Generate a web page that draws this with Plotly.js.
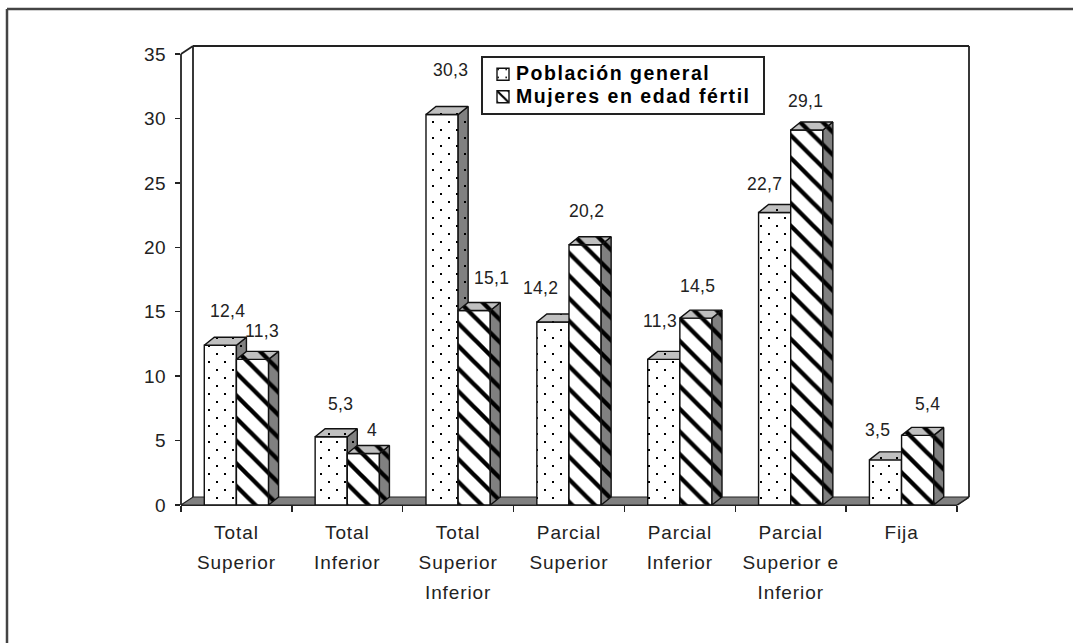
<!DOCTYPE html>
<html><head><meta charset="utf-8">
<script src="https://cdn.plot.ly/plotly-3.0.1.min.js"></script>
<style>html,body{margin:0;padding:0;background:#fff}
.legendtext{font-size:19.5px !important;letter-spacing:1.55px;transform:translateX(-7px)}
.xtick text{letter-spacing:.9px}
.ytick text{letter-spacing:.5px}
.annotation-text{letter-spacing:.3px}
</style></head>
<body><div id="chart" style="width:1073px;height:643px"></div>
<script>
const categories = ["Total<br>Superior","Total<br>Inferior","Total<br>Superior<br>Inferior","Parcial<br>Superior","Parcial<br>Inferior","Parcial<br>Superior e<br>Inferior","Fija"];
const serie1Name = "Población general";
const serie2Name = "Mujeres en edad fértil";
const serie1 = [12.4,5.3,30.3,14.2,11.3,22.7,3.5];
const serie2 = [11.3,4,15.1,20.2,14.5,29.1,5.4];
const yTicks = [0,5,10,15,20,25,30,35];
// label placement, px from the front of each category at the value height
const label1Dx = [-8.5,-7,-8,-29,-20,-26,-24];
const label1Dy = [34,33,45,34,38,28,30];
const label2Dx = [25.5,25,33,17,18,15,26];
const label2Dy = [28,23,32,34,32,29,31];

const W=1073,H=643,L=181,R=969,T=46,B=505;
const catPx=110.86, yPx=12.886;
const xMax=6.5+12/catPx, yMax=35+8/yPx;
const barW=0.29, dx=10/catPx, dy=8/yPx, wallX=12/catPx, wallY=8/yPx;
const ink="#111", textCol="#222";
const FONT="Liberation Sans, Arial, sans-serif";
const dots={shape:"",path:"M3,3h2v2h-2zM11,11h2v2h-2z",size:16,solidity:1,fgcolor:"#000",bgcolor:"#fff"};
const hatch={shape:"\\",size:16,solidity:0.27,fgcolor:"#000",bgcolor:"#fff"};
const positions=categories.map((c,i)=>i);
const boundaries=categories.map((c,i)=>i-0.5).concat(6.5);

function faces(vals,off,xa,ya,pat,name){
  const sx=[],sy=[],tx=[],ty=[];
  vals.forEach((v,i)=>{
    const l=i+off, r=l+barW;
    sx.push(r,r+dx,r+dx,r,r,null); sy.push(0,dy,v+dy,v,0,null);
    tx.push(l,l+dx,r+dx,r,l,null); ty.push(v,v+dy,v+dy,v,v,null);
  });
  const mk=(x,y,c,n)=>({type:"scatter",mode:"lines",x,y,xaxis:xa,yaxis:ya,fill:"toself",fillcolor:c,
    fillpattern:Object.assign({},pat,{bgcolor:c}),
    line:{color:ink,width:1.4},showlegend:false,hoverinfo:"skip",name:n});
  return [mk(sx,sy,"#808080",name+" lado"),mk(tx,ty,"#c0c0c0",name+" tapa")];
}
function bar(vals,off,xa,ya,pat,name){
  return {type:"bar",name,x:positions,y:vals,xaxis:xa,yaxis:ya,width:barW,offset:off,
    marker:{color:"#fff",pattern:pat,line:{color:ink,width:1.4}}};
}
const traces=[
  bar(serie1,-barW,"x","y",dots,serie1Name),
  ...faces(serie1,-barW,"x","y",dots,serie1Name),
  bar(serie2,0,"x2","y2",hatch,serie2Name),
  ...faces(serie2,0,"x2","y2",hatch,serie2Name)
];
const fmt=v=>String(v).replace(".",",");
const lab=(vals,dxs,dys)=>vals.map((v,i)=>({x:i,y:v,xref:"x",yref:"y",text:fmt(v),showarrow:false,
  xshift:dxs[i],yshift:dys[i],xanchor:"center",yanchor:"middle",font:{family:FONT,size:17.5,color:textCol}}));
// "paper" coordinates are fractions of the plot area, so these lines may run past it without clipping
const ax=v=>(v+0.5)/(xMax+0.5), ay=v=>v/yMax;
const line=(x0,y0,x1,y1)=>({type:"line",xref:"paper",yref:"paper",x0:ax(x0),y0:ay(y0),x1:ax(x1),y1:ay(y1),layer:"below",line:{color:"#222",width:1.8}});
const px=v=>(v-L)/(R-L), py=v=>(B-v)/(B-T);
const frame=(x0,y0,x1,y1)=>({type:"line",xref:"paper",yref:"paper",x0:px(x0),y0:py(y0),x1:px(x1),y1:py(y1),layer:"above",line:{color:"#444",width:2.5}});
const shapes=[
  {type:"path",xref:"x",yref:"y",layer:"below",path:`M-0.5,0L${-0.5+wallX},${wallY}L${xMax},${wallY}L6.5,0Z`,fillcolor:"#808080",line:{color:"#222",width:1.2}},
  line(-0.5,0,-0.5,35), line(-0.5,35,-0.5+wallX,yMax), line(-0.5+wallX,yMax,xMax,yMax),
  line(xMax,yMax,xMax,wallY), line(-0.5+wallX,yMax,-0.5+wallX,wallY), line(-0.5,0,6.5,0), line(6.5,0,xMax,wallY),
  frame(7,H,7,9), frame(7,9,W,9)
];
const layout={
  width:W,height:H,paper_bgcolor:"#fff",plot_bgcolor:"rgba(0,0,0,0)",showlegend:true,bargap:0,
  font:{family:FONT,size:16,color:textCol},
  margin:{l:L,r:W-R,t:T,b:H-B,pad:0},
  xaxis:{range:[-0.5,xMax],tickmode:"array",tickvals:positions,ticktext:categories,ticks:"",ticklabelstandoff:14,
    minor:{tickmode:"array",tickvals:boundaries,ticks:"outside",ticklen:6,tickwidth:1.5,tickcolor:"#222",showgrid:false},
    showline:false,showgrid:false,zeroline:false,tickfont:{size:19},tickangle:0,automargin:false},
  yaxis:{range:[0,yMax],tickmode:"array",tickvals:yTicks,ticks:"outside",ticklen:5,tickwidth:1.5,tickcolor:"#222",ticklabelstandoff:5,showline:false,showgrid:false,zeroline:false,tickfont:{size:19},automargin:false},
  xaxis2:{range:[-0.5,xMax],overlaying:"x",visible:false},
  yaxis2:{range:[0,yMax],overlaying:"y",visible:false},
  legend:{x:(481-L)/(R-L),y:(B-56)/(B-T),xanchor:"left",yanchor:"top",bgcolor:"#fff",bordercolor:"#222",borderwidth:2,font:{family:FONT,size:15,color:"#000",weight:"bold"},itemwidth:30,entrywidth:236,entrywidthmode:"pixels",tracegroupgap:0,traceorder:"normal"},
  shapes,annotations:[...lab(serie1,label1Dx,label1Dy),...lab(serie2,label2Dx,label2Dy)]
};
const spaceLabels=()=>document.querySelectorAll(".xtick text tspan.line").forEach(t=>{
  const d=parseFloat(t.getAttribute("dy"))||0;
  if(String(t.getAttribute("dy")).endsWith("em")) t.setAttribute("dy",(d/1.3*30)+"px");
});
Plotly.newPlot("chart",traces,layout,{staticPlot:true,displayModeBar:false}).then(spaceLabels);
</script></body></html>
